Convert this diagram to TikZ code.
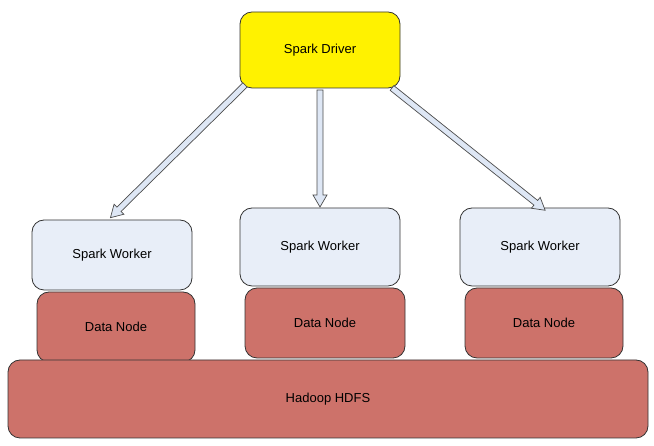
\documentclass[tikz,border=0pt]{standalone}
\usepackage{fontspec}
\setmainfont{Liberation Sans}
\begin{document}
\begin{tikzpicture}[x=1pt,y=1pt,
  box/.style={draw=black!80,line width=0.8pt,rounded corners=12pt,font=\fontsize{13}{15}\selectfont},
  drv/.style={box,fill=yellow},
  wrk/.style={box,fill={rgb,255:red,232;green,238;blue,248}},
  dn/.style={box,fill={rgb,255:red,205;green,114;blue,106}},
  fat/.style={fill={rgb,255:red,222;green,231;blue,245},draw=black!70,line width=0.7pt}]
\useasboundingbox (0,0) rectangle (654,446);
\def\fatarrow#1#2#3{\begin{scope}[shift={(#1)},rotate=#2]
 \path[fat] (0,-3)--(#3-12,-3)--(#3-12,-7)--(#3,0)--(#3-12,7)--(#3-12,3)--(0,3)--cycle;\end{scope}}
\node[drv,minimum width=160pt,minimum height=76pt] (d) at (320,396) {Spark Driver};
\node[wrk,minimum width=160pt,minimum height=70pt] (w1) at (112,191) {Spark Worker};
\node[wrk,minimum width=160pt,minimum height=78pt] (w2) at (320,199) {Spark Worker};
\node[wrk,minimum width=160pt,minimum height=78pt] (w3) at (540,199) {Spark Worker};
\node[dn,minimum width=158pt,minimum height=70pt] (n1) at (116,119) {Data Node};
\node[dn,minimum width=160pt,minimum height=70pt] (n2) at (325,123) {Data Node};
\node[dn,minimum width=158pt,minimum height=70pt] (n3) at (544,123) {Data Node};
\node[dn,minimum width=640pt,minimum height=78pt] (h) at (328,47) {Hadoop HDFS};
\fatarrow{245,361}{224.6}{189}
\fatarrow{320,356}{-90}{117}
\fatarrow{392,358}{-38.6}{196}
\end{tikzpicture}
\end{document}
